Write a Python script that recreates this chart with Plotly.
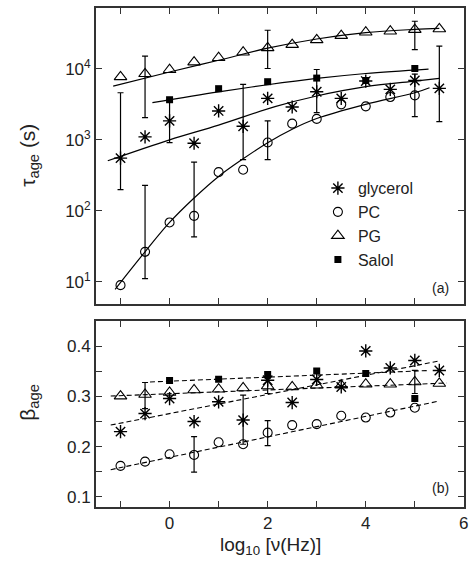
import plotly.graph_objects as go

# ---------------- data ----------------
x_vals = [-1, -0.5, 0, 0.5, 1, 1.5, 2, 2.5, 3, 3.5, 4, 4.5, 5, 5.5]

# tau_age (s)
tau_glycerol = [552, 1100, 1850, 895, 2550, 1550, 3840, 2900, 4750, 3840, 6720, 5130, 6850, 5300]
tau_pc_x = [-1, -0.5, 0, 0.5, 1, 1.5, 2, 2.5, 3, 3.5, 4, 4.5, 5]
tau_pc = [9.0, 26.5, 68.7, 85, 351, 379, 916, 1690, 1970, 3160, 2960, 4000, 4230]
tau_pg = [7700, 8500, 9700, 12400, 14300, 17100, 19700, 21900, 25500, 29300, 32700, 33800, 35600, 36400]
tau_salol_x = [0, 1, 2, 3, 4, 5]
tau_salol = [3670, 5250, 6580, 7400, 6850, 10100]

# error bars in tau: x, centre, upper end, lower end
tau_glycerol_err_x = [-1, 0, 1.5, 3, 5.5]
tau_glycerol_err_c = [552, 1850, 1550, 4750, 5300]
tau_glycerol_hi = [4600, 3670, 6030, 9770, 20800]
tau_glycerol_lo = [199, 916, 525, 2415, 1807]
tau_pc_err_x = [-0.5, 0.5, 2, 5]
tau_pc_err_c = [26.5, 85, 916, 4230]
tau_pc_hi = [229, 485, 1845, 8430]
tau_pc_lo = [11.1, 43, 525, 2120]
tau_pg_err_x = [-0.5, 2, 5]
tau_pg_err_c = [8500, 19700, 35600]
tau_pg_hi = [15070, 34900, 46700]
tau_pg_lo = [2055, 10100, 18600]

# fit curves for tau (log10 tau at anchor x)
fit_glycerol_x = [-1.26, 0, 1, 2.15, 3, 4, 5, 5.5]
fit_glycerol_log = [2.705, 3.0, 3.208, 3.467, 3.617, 3.748, 3.827, 3.864]
fit_pc_x = [-1.11, -0.5, 0, 0.5, 1, 1.5, 2, 2.5, 3, 4, 5, 5.3]
fit_pc_log = [0.896, 1.424, 1.837, 2.181, 2.485, 2.733, 2.96, 3.15, 3.3, 3.5, 3.663, 3.734]
fit_pg_x = [-1.15, 0, 1, 2, 3, 4, 5, 5.5]
fit_pg_log = [3.757, 3.955, 4.12, 4.29, 4.42, 4.51, 4.555, 4.57]
fit_salol_x = [-0.35, 1, 2, 3, 4, 5.28]
fit_salol_log = [3.523, 3.675, 3.775, 3.864, 3.934, 3.996]

# beta_age
beta_glycerol = [0.230, 0.266, 0.296, 0.250, 0.2895, 0.253, 0.3325, 0.288, 0.334, 0.319, 0.391, 0.357, 0.372, 0.352]
beta_pc = [0.1616, 0.170, 0.1848, 0.1834, 0.2087, 0.2047, 0.2279, 0.243, 0.245, 0.2617, 0.258, 0.268, 0.2776]
beta_pg = [0.3007, 0.304, 0.308, 0.313, 0.3146, 0.317, 0.321, 0.319, 0.3225, 0.3225, 0.3245, 0.3245, 0.329, 0.326]
beta_salol = [0.332, 0.3344, 0.344, 0.351, 0.3458, 0.296]

beta_glycerol_err_x = [1.5]
beta_glycerol_err_c = [0.253]
beta_glycerol_hi = [0.3026]
beta_glycerol_lo = [0.2047]
beta_pc_err_x = [0.5, 2]
beta_pc_err_c = [0.1834, 0.2279]
beta_pc_hi = [0.220, 0.252]
beta_pc_lo = [0.149, 0.202]
beta_pg_err_x = [-0.5, 2, 5]
beta_pg_err_c = [0.304, 0.321, 0.329]
beta_pg_hi = [0.328, 0.336, 0.352]
beta_pg_lo = [0.276, 0.306, 0.306]

# linear fits for beta (end points)
bfit_glycerol_x = [-1.2, 5.5]
bfit_glycerol = [0.243, 0.371]
bfit_pc_x = [-1.2, 5.45]
bfit_pc = [0.154, 0.290]
bfit_pg_x = [-1.2, 5.65]
bfit_pg = [0.301, 0.327]
bfit_salol_x = [-0.4, 5.3]
bfit_salol = [0.329, 0.352]

tau_tickvals = [10, 100, 1000, 10000]
tau_ticktext = ["10<sup>1</sup>", "10<sup>2</sup>", "10<sup>3</sup>", "10<sup>4</sup>"]

# ---------------- helpers ----------------
BLACK = "black"
sym = {
    "glycerol": dict(symbol="asterisk-open", size=11, color=BLACK, line=dict(width=1.4, color=BLACK)),
    "PC": dict(symbol="circle-open", size=9, color=BLACK, line=dict(width=1.1, color=BLACK)),
    "PG": dict(symbol="triangle-up-open", size=11, color=BLACK, line=dict(width=1.1, color=BLACK)),
    "Salol": dict(symbol="square", size=7, color=BLACK, line=dict(width=0, color=BLACK)),
}


def err_trace(xs, cs, hi, lo, xa, ya):
    return go.Scatter(
        x=xs, y=cs, mode="markers", marker=dict(size=1, opacity=0),
        error_y=dict(type="data", symmetric=False,
                     array=[h - c for h, c in zip(hi, cs)],
                     arrayminus=[c - l for l, c in zip(lo, cs)],
                     color=BLACK, thickness=1.2, width=3),
        showlegend=False, hoverinfo="skip", xaxis=xa, yaxis=ya)


fig = go.Figure()

# top panel fits
for fx, fl in [(fit_glycerol_x, fit_glycerol_log), (fit_pc_x, fit_pc_log),
               (fit_pg_x, fit_pg_log), (fit_salol_x, fit_salol_log)]:
    fig.add_trace(go.Scatter(x=fx, y=[10 ** v for v in fl], mode="lines",
                             line=dict(color=BLACK, width=1.2, shape="spline"),
                             showlegend=False, xaxis="x", yaxis="y", hoverinfo="skip"))

# bottom panel fits
for fx, fy in [(bfit_glycerol_x, bfit_glycerol), (bfit_pc_x, bfit_pc),
               (bfit_pg_x, bfit_pg), (bfit_salol_x, bfit_salol)]:
    fig.add_trace(go.Scatter(x=fx, y=fy, mode="lines",
                             line=dict(color=BLACK, width=1.1, dash="5px,3px"),
                             showlegend=False, xaxis="x2", yaxis="y2", hoverinfo="skip"))

# error bars
fig.add_trace(err_trace(tau_glycerol_err_x, tau_glycerol_err_c, tau_glycerol_hi, tau_glycerol_lo, "x", "y"))
fig.add_trace(err_trace(tau_pc_err_x, tau_pc_err_c, tau_pc_hi, tau_pc_lo, "x", "y"))
fig.add_trace(err_trace(tau_pg_err_x, tau_pg_err_c, tau_pg_hi, tau_pg_lo, "x", "y"))
fig.add_trace(err_trace(beta_glycerol_err_x, beta_glycerol_err_c, beta_glycerol_hi, beta_glycerol_lo, "x2", "y2"))
fig.add_trace(err_trace(beta_pc_err_x, beta_pc_err_c, beta_pc_hi, beta_pc_lo, "x2", "y2"))
fig.add_trace(err_trace(beta_pg_err_x, beta_pg_err_c, beta_pg_hi, beta_pg_lo, "x2", "y2"))

# top panel data
top_sets = [
    ("glycerol", x_vals, tau_glycerol),
    ("PC", tau_pc_x, tau_pc),
    ("PG", x_vals, tau_pg),
    ("Salol", tau_salol_x, tau_salol),
]
for name, xs, ys in top_sets:
    fig.add_trace(go.Scatter(x=xs, y=ys, mode="markers", name=name, marker=sym[name],
                             xaxis="x", yaxis="y", showlegend=True))

bot_sets = [
    ("glycerol", x_vals, beta_glycerol),
    ("PC", tau_pc_x, beta_pc),
    ("PG", x_vals, beta_pg),
    ("Salol", tau_salol_x, beta_salol),
]
for name, xs, ys in bot_sets:
    fig.add_trace(go.Scatter(x=xs, y=ys, mode="markers", name=name, marker=sym[name],
                             xaxis="x2", yaxis="y2", showlegend=False))

AX = "#333333"
TXT = "#222222"
FONT = "Liberation Sans, Arial, sans-serif"
axline = dict(showline=True, linecolor=AX, linewidth=1.8, mirror="ticks",
              ticks="inside", ticklen=6, tickwidth=1.2, tickcolor=AX,
              showgrid=False, zeroline=False)
minor_style = dict(ticks="inside", ticklen=6, tickwidth=1.2, tickcolor=AX, showgrid=False)

fig.update_layout(
    width=475, height=568,
    margin=dict(l=96, r=9, t=6, b=61),
    paper_bgcolor="white", plot_bgcolor="white",
    font=dict(family=FONT, color=TXT),
    xaxis=dict(domain=[0, 1], anchor="y", range=[-1.5, 6.003], tick0=0, dtick=2,
               minor=dict(dtick=1, **minor_style), showticklabels=False, **axline),
    yaxis=dict(domain=[0.407, 1], type="log", range=[0.69, 4.856], anchor="x",
               tickvals=tau_tickvals, ticktext=tau_ticktext,
               tickfont=dict(size=17, color=TXT), **axline),
    xaxis2=dict(domain=[0, 1], anchor="y2", range=[-1.5, 6.003], tick0=0, dtick=2,
                minor=dict(dtick=1, **minor_style), ticklabeloverflow="allow",
                tickfont=dict(size=17, color=TXT), **axline),
    yaxis2=dict(domain=[0, 0.373], range=[0.0795, 0.451], anchor="x2",
                tick0=0, dtick=0.1, tickformat=".1f",
                minor=dict(dtick=0.05, **minor_style),
                tickfont=dict(size=17, color=TXT), **axline),
    legend=dict(x=0.603, y=0.673, xanchor="left", yanchor="top", bgcolor="rgba(0,0,0,0)",
                font=dict(size=16, color=TXT), itemwidth=30, tracegroupgap=0),
    showlegend=True,
)

ann = [
    dict(text="τ<sub>age</sub> (s)", x=29, y=154),
    dict(text="β<sub>age</sub>", x=29, y=402),
]
for a in ann:
    fig.add_annotation(text=a["text"], xref="paper", yref="paper",
                       x=(a["x"] - 96) / 370, y=(507 - a["y"]) / 501,
                       textangle=-90, showarrow=False, font=dict(size=21, color=TXT),
                       xanchor="center", yanchor="middle")
fig.add_annotation(text="log<sub>10</sub> [ν(Hz)]", xref="paper", yref="paper",
                   x=(271 - 96) / 370, y=(507 - 546) / 501, showarrow=False,
                   font=dict(size=19, color=TXT), xanchor="center", yanchor="middle")
fig.add_annotation(text="(a)", xref="paper", yref="paper", x=(442 - 96) / 370, y=(507 - 287) / 501,
                   showarrow=False, font=dict(size=14, color=TXT), xanchor="center", yanchor="middle")
fig.add_annotation(text="(b)", xref="paper", yref="paper", x=(442 - 96) / 370, y=(507 - 488) / 501,
                   showarrow=False, font=dict(size=14, color=TXT), xanchor="center", yanchor="middle")

fig.write_html("out.html", config={"displayModeBar": False},
               post_script="document.body.style.margin='0';document.body.style.overflow='hidden';")
